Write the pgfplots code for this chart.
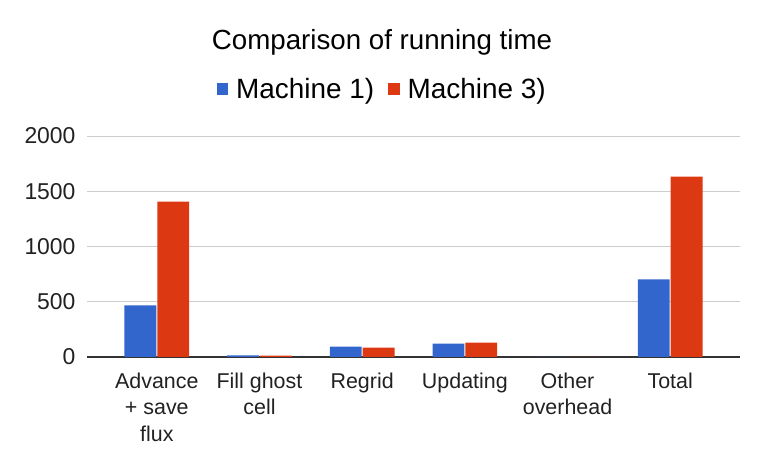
\documentclass[border=0pt]{standalone}
\usepackage{fontspec}
\setmainfont{Liberation Sans}
\usepackage{pgfplots}
\pgfplotsset{compat=1.18}
\definecolor{gblue}{HTML}{3366CC}
\definecolor{gred}{HTML}{DC3912}
\begin{document}
\begin{tikzpicture}[x=1bp,y=1bp]
\begin{axis}[
  at={(87bp,116bp)}, anchor=south west,
  scale only axis, width=653bp, height=221bp,
  ybar=1bp, bar width=0.31,
  xmin=-0.68, xmax=5.68,
  ymin=0, ymax=2000,
  xtick=data,
  xticklabels={{Advance\\+ save\\flux},{Fill ghost\\cell},Regrid,Updating,{Other\\overhead},Total},
  ytick={500,1000,1500,2000},
  extra y ticks={0},
  extra y tick style={grid style={draw=black!80, line width=1.3bp}},
  ymajorgrids, grid style={draw=black!20, line width=0.8bp},
  axis line style={draw=none},
  xtick style={draw=none},
  ytick style={draw=none},
  x tick label style={font=\fontsize{21.5}{26.7}\selectfont, align=center, anchor=north, yshift=-8bp},
  y tick label style={font=\fontsize{23}{26}\selectfont},
  yticklabel style={anchor=east, xshift=-8bp},
  /pgf/number format/assume math mode=true,
  /pgf/number format/1000 sep={},
  ticklabel style={text=black!87},
  legend style={draw=none, at={(0.452,1.0)}, anchor=south, yshift=32bp,
    font=\fontsize{28}{32}\selectfont, legend columns=2,
    /tikz/every odd column/.append style={column sep=6bp},
    /tikz/every even column/.append style={column sep=12bp}},
  legend image code/.code={\fill[#1] (0bp,-6bp) rectangle (11.5bp,5.5bp);},
]
\addplot[fill=gblue, draw=none] coordinates {(0,468) (1,14) (2,93) (3,120) (4,0) (5,703)};
\addplot[fill=gred, draw=none] coordinates {(0,1405) (1,13) (2,84) (3,129) (4,0) (5,1633)};
\legend{Machine 1),Machine 3)}
\end{axis}
\node[font=\fontsize{27.8}{31}\selectfont, anchor=base] at (382,423) {Comparison of running time};
\pgfresetboundingbox
\path (0,0) rectangle (764,473);
\end{tikzpicture}
\end{document}
